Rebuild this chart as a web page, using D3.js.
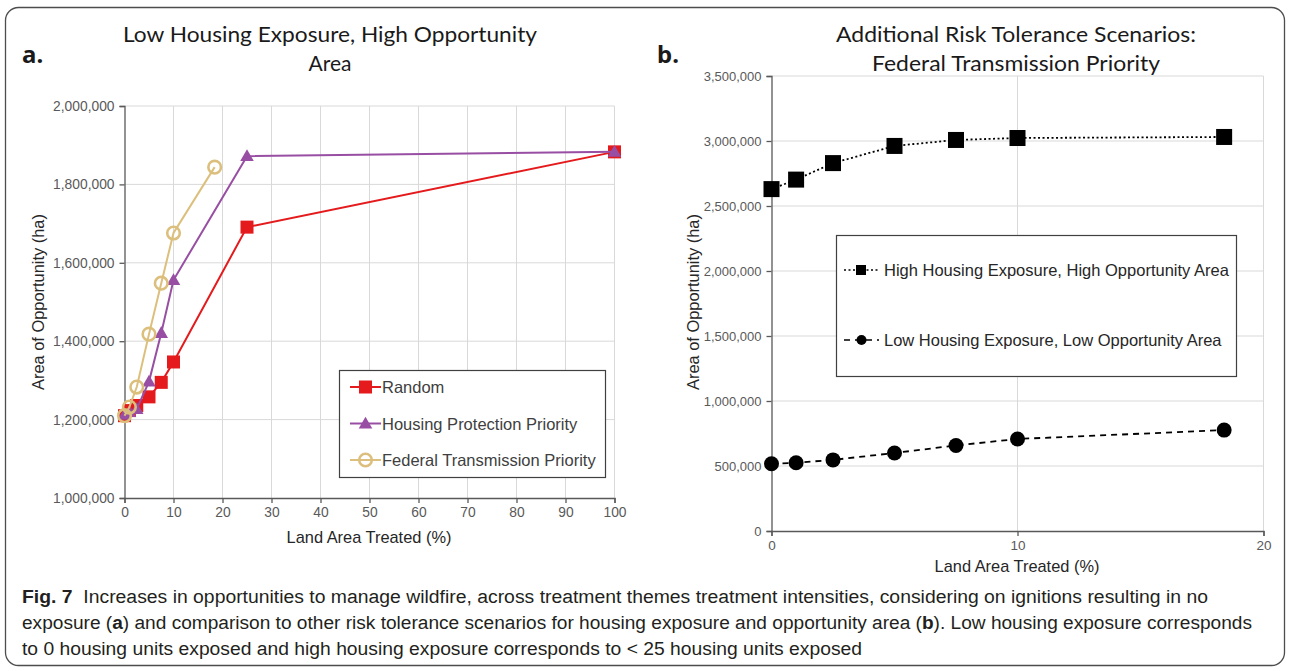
<!DOCTYPE html>
<html>
<head>
<meta charset="utf-8">
<script src="https://cdn.jsdelivr.net/npm/d3@7"></script>
<style>
  html, body { margin: 0; padding: 0; background: #fff; }
  svg { display: block; }
  .tick text { font-family: "Liberation Sans", Arial, sans-serif; }
</style>
</head>
<body>
<svg id="fig" width="1290" height="671"></svg>
<script>
// ---- Panel a: low housing exposure, high opportunity area ----
const pctA = [0, 1, 2.5, 5, 7.5, 10, 25, 100];
const randomArea = [1210000, 1223000, 1236000, 1258000, 1295000, 1347000, 1691000, 1883000];
const housingArea = [1212000, 1219000, 1227000, 1297000, 1421000, 1556000, 1872000, 1883000];
const pctFed = [0, 1, 2.5, 5, 7.5, 10, 18.4];
const federalArea = [1210000, 1232000, 1283000, 1418000, 1548000, 1676000, 1844000];
const ticksAX = [0, 10, 20, 30, 40, 50, 60, 70, 80, 90, 100];
const ticksAY = [1000000, 1200000, 1400000, 1600000, 1800000, 2000000];

// ---- Panel b: federal transmission priority, other risk tolerances ----
const pctB = [0, 1, 2.5, 5, 7.5, 10, 18.4];
const highHighArea = [2630000, 2703000, 2830000, 2962000, 3008000, 3023000, 3031000];
const lowLowArea = [517000, 525000, 547000, 600000, 658000, 708000, 776000];
const ticksBX = [0, 10, 20];
const ticksBY = [0, 500000, 1000000, 1500000, 2000000, 2500000, 3000000, 3500000];

const seriesA = [
  { name: "Random", x: pctA, y: randomArea, color: "#e41a1c", marker: "square" },
  { name: "Housing Protection Priority", x: pctA, y: housingArea, color: "#984ea3", marker: "triangle" },
  { name: "Federal Transmission Priority", x: pctFed, y: federalArea, color: "#dcbf7c", marker: "ring" }
];
const seriesB = [
  { name: "High Housing Exposure, High Opportunity Area", x: pctB, y: highHighArea, marker: "bigsquare", dash: "2,2.5" },
  { name: "Low Housing Exposure, Low Opportunity Area", x: pctB, y: lowLowArea, marker: "dot", dash: "6,5" }
];

const svg = d3.select("#fig");
const axisGray = "#595959";
const gridGray = "#d9d9d9";
const fmt = d3.format(",");
const sans = "Liberation Sans, Arial, sans-serif";

// outer frame
svg.append("rect").attr("x", 5.5).attr("y", 7.5).attr("width", 1279).attr("height", 658)
  .attr("rx", 13).attr("fill", "none").attr("stroke", "#4d4d4d").attr("stroke-width", 1.3);

function drawMarker(g, kind, cx, cy, color) {
  if (kind === "square") {
    g.append("rect").attr("x", cx - 6.5).attr("y", cy - 6.5).attr("width", 13).attr("height", 13).attr("fill", color);
  } else if (kind === "triangle") {
    g.append("path").attr("d", d3.symbol().type(d3.symbolTriangle).size(80)())
      .attr("transform", `translate(${cx},${cy + 1})`).attr("fill", color);
  } else if (kind === "ring") {
    g.append("circle").attr("cx", cx).attr("cy", cy).attr("r", 6.3)
      .attr("fill", "none").attr("stroke", color).attr("stroke-width", 2.6);
  } else if (kind === "bigsquare") {
    g.append("rect").attr("x", cx - 8).attr("y", cy - 8).attr("width", 16).attr("height", 16).attr("fill", color);
  } else if (kind === "dot") {
    g.append("circle").attr("cx", cx).attr("cy", cy).attr("r", 7.5).attr("fill", color);
  }
}

function styleAxis(size) {
  return g => {
    g.select(".domain").attr("stroke", axisGray).attr("stroke-width", 1.3);
    g.selectAll(".tick line").attr("stroke", axisGray).attr("stroke-width", 1.3);
    g.selectAll(".tick text").attr("fill", axisGray).attr("font-size", size);
  };
}

// ================= Panel a =================
const xA = d3.scaleLinear().domain([0, 100]).range([124.5, 614.5]);
const yA = d3.scaleLinear().domain([1000000, 2000000]).range([498, 106]);
const gA = svg.append("g");

gA.append("g").selectAll("line").data(ticksAX.slice(1)).join("line")
  .attr("x1", d => xA(d)).attr("x2", d => xA(d)).attr("y1", yA(1000000)).attr("y2", yA(2000000))
  .attr("stroke", gridGray).attr("stroke-width", 1);
gA.append("g").selectAll("line").data(ticksAY.slice(1)).join("line")
  .attr("x1", xA(0)).attr("x2", xA(100)).attr("y1", d => yA(d)).attr("y2", d => yA(d))
  .attr("stroke", gridGray).attr("stroke-width", 1);

gA.append("g").attr("transform", `translate(0,${yA(1000000)})`)
  .call(d3.axisBottom(xA).tickValues(ticksAX).tickSize(5).tickSizeOuter(5).tickPadding(4))
  .call(styleAxis(13.8));
gA.append("g").attr("transform", `translate(${xA(0)},0)`)
  .call(d3.axisLeft(yA).tickValues(ticksAY).tickFormat(fmt).tickSize(5).tickSizeOuter(5).tickPadding(5))
  .call(styleAxis(13.8));

seriesA.forEach(s => {
  const pts = s.x.map((x, i) => [xA(x), yA(s.y[i])]);
  gA.append("path").attr("d", d3.line()(pts)).attr("fill", "none")
    .attr("stroke", s.color).attr("stroke-width", 2);
  pts.forEach(p => drawMarker(gA, s.marker, p[0], p[1], s.color));
});

// legend a
const legA = gA.append("g");
legA.append("rect").attr("x", 339.5).attr("y", 370.5).attr("width", 266).attr("height", 107)
  .attr("fill", "#fff").attr("stroke", "#404040").attr("stroke-width", 1.2);
seriesA.forEach((s, i) => {
  const cy = 387 + i * 36.5;
  legA.append("line").attr("x1", 350).attr("x2", 381).attr("y1", cy).attr("y2", cy)
    .attr("stroke", s.color).attr("stroke-width", 2);
  drawMarker(legA, s.marker, 365.5, cy, s.color);
  legA.append("text").attr("x", 382).attr("y", cy + 6).text(s.name)
    .attr("font-family", sans).attr("font-size", 16.5).attr("fill", "#404040");
});

// titles and axis labels a
svg.append("text").attr("x", 22).attr("y", 63).text("a.")
  .attr("font-family", "Noto Sans, sans-serif").attr("font-weight", "bold").attr("font-size", 24).attr("fill", "#1a1a1a");
svg.append("text").attr("x", 330).attr("y", 42).attr("text-anchor", "middle")
  .attr("textLength", 414).attr("lengthAdjust", "spacingAndGlyphs")
  .text("Low Housing Exposure, High Opportunity")
  .attr("font-family", "Lato, sans-serif").attr("font-size", 21).attr("fill", "#1a1a1a");
svg.append("text").attr("x", 330).attr("y", 71).attr("text-anchor", "middle")
  .text("Area").attr("font-family", "Lato, sans-serif").attr("font-size", 21).attr("fill", "#1a1a1a");
svg.append("text").attr("transform", "translate(44,302) rotate(-90)").attr("text-anchor", "middle")
  .text("Area of Opportunity (ha)")
  .attr("font-family", sans).attr("font-size", 16.4).attr("fill", "#262626");
svg.append("text").attr("x", 369).attr("y", 543).attr("text-anchor", "middle")
  .text("Land Area Treated (%)")
  .attr("font-family", sans).attr("font-size", 16.4).attr("fill", "#262626");

// ================= Panel b =================
const xB = d3.scaleLinear().domain([0, 20]).range([771.5, 1263.5]);
const yB = d3.scaleLinear().domain([0, 3500000]).range([531, 76]);
const gB = svg.append("g");

gB.append("g").selectAll("line").data(ticksBX.slice(1)).join("line")
  .attr("x1", d => xB(d)).attr("x2", d => xB(d)).attr("y1", yB(0)).attr("y2", yB(3500000))
  .attr("stroke", gridGray).attr("stroke-width", 1);
gB.append("g").selectAll("line").data(ticksBY.slice(1)).join("line")
  .attr("x1", xB(0)).attr("x2", xB(20)).attr("y1", d => yB(d)).attr("y2", d => yB(d))
  .attr("stroke", gridGray).attr("stroke-width", 1);

gB.append("g").attr("transform", `translate(0,${yB(0)})`)
  .call(d3.axisBottom(xB).tickValues(ticksBX).tickSize(5).tickSizeOuter(5).tickPadding(4))
  .call(styleAxis(13.5));
gB.append("g").attr("transform", `translate(${xB(0)},0)`)
  .call(d3.axisLeft(yB).tickValues(ticksBY).tickFormat(fmt).tickSize(5).tickSizeOuter(5).tickPadding(5))
  .call(styleAxis(13));

seriesB.forEach(s => {
  const pts = s.x.map((x, i) => [xB(x), yB(s.y[i])]);
  gB.append("path").attr("d", d3.line()(pts)).attr("fill", "none")
    .attr("stroke", "#000").attr("stroke-width", 1.8).attr("stroke-dasharray", s.dash);
  pts.forEach(p => drawMarker(gB, s.marker, p[0], p[1], "#000"));
});

// legend b
const legB = gB.append("g");
legB.append("rect").attr("x", 836.5).attr("y", 235.5).attr("width", 400).attr("height", 141)
  .attr("fill", "#fff").attr("stroke", "#404040").attr("stroke-width", 1.2);
seriesB.forEach((s, i) => {
  const cy = 270 + i * 70;
  legB.append("line").attr("x1", 844).attr("x2", 879).attr("y1", cy).attr("y2", cy)
    .attr("stroke", "#000").attr("stroke-width", 1.5).attr("stroke-dasharray", s.dash);
  if (s.marker === "bigsquare") {
    legB.append("rect").attr("x", 856).attr("y", cy - 5).attr("width", 10).attr("height", 10).attr("fill", "#000");
  } else {
    legB.append("circle").attr("cx", 861.5).attr("cy", cy).attr("r", 5).attr("fill", "#000");
  }
  legB.append("text").attr("x", 884).attr("y", cy + 6).text(s.name)
    .attr("font-family", sans).attr("font-size", 16.5).attr("fill", "#262626");
});

// titles and axis labels b
svg.append("text").attr("x", 657).attr("y", 63).text("b.")
  .attr("font-family", "Noto Sans, sans-serif").attr("font-weight", "bold").attr("font-size", 24).attr("fill", "#1a1a1a");
svg.append("text").attr("x", 1016).attr("y", 42).attr("text-anchor", "middle")
  .attr("textLength", 360).attr("lengthAdjust", "spacingAndGlyphs")
  .text("Additional Risk Tolerance Scenarios:")
  .attr("font-family", "Lato, sans-serif").attr("font-size", 21).attr("fill", "#1a1a1a");
svg.append("text").attr("x", 1016).attr("y", 71).attr("text-anchor", "middle")
  .attr("textLength", 288).attr("lengthAdjust", "spacingAndGlyphs")
  .text("Federal Transmission Priority")
  .attr("font-family", "Lato, sans-serif").attr("font-size", 21).attr("fill", "#1a1a1a");
svg.append("text").attr("transform", "translate(699,302) rotate(-90)").attr("text-anchor", "middle")
  .text("Area of Opportunity (ha)")
  .attr("font-family", sans).attr("font-size", 16.4).attr("fill", "#262626");
svg.append("text").attr("x", 1017).attr("y", 572).attr("text-anchor", "middle")
  .text("Land Area Treated (%)")
  .attr("font-family", sans).attr("font-size", 16.4).attr("fill", "#262626");

// ================= Caption =================
const capFont = "'Liberation Sans Narrow', 'Liberation Sans', sans-serif";
const captionLines = [
  { y: 603, len: 1186, parts: [["Fig. 7", true], ["  Increases in opportunities to manage wildfire, across treatment themes treatment intensities, considering on ignitions resulting in no", false]] },
  { y: 629, len: 1230, parts: [["exposure (", false], ["a", true], [") and comparison to other risk tolerance scenarios for housing exposure and opportunity area (", false], ["b", true], ["). Low housing exposure corresponds", false]] },
  { y: 655, len: 840, parts: [["to 0 housing units exposed and high housing exposure corresponds to < 25 housing units exposed", false]] }
];
captionLines.forEach(line => {
  const t = svg.append("text").attr("x", 22).attr("y", line.y)
    .attr("textLength", line.len).attr("lengthAdjust", "spacingAndGlyphs")
    .attr("font-family", capFont).attr("font-size", 18).attr("fill", "#231f20")
    .attr("xml:space", "preserve").style("white-space", "pre");
  line.parts.forEach(([txt, bold]) => {
    t.append("tspan").text(txt).attr("font-weight", bold ? "bold" : "normal");
  });
});
</script>
</body>
</html>
